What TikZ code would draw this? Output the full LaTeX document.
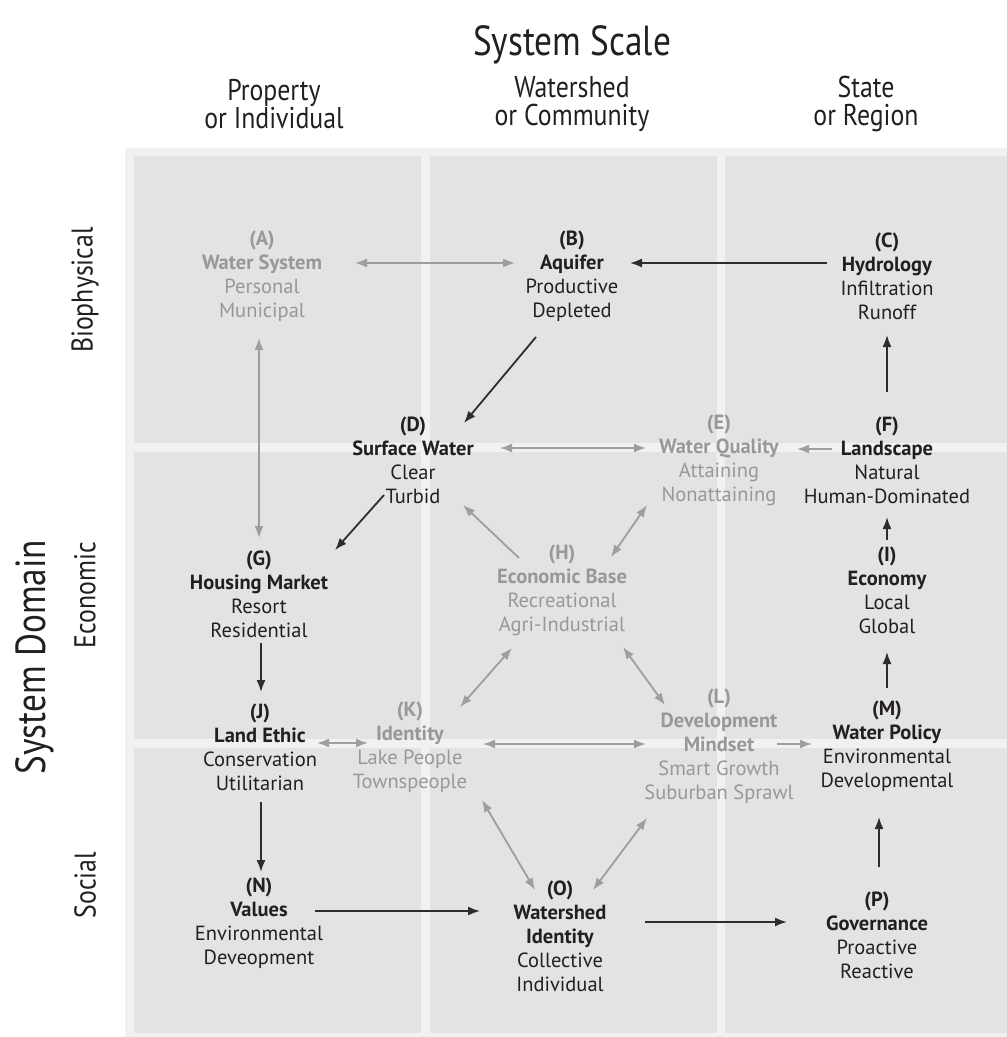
\documentclass[tikz,border=0pt]{standalone}
\usepackage{fontspec}
\setmainfont{PT Sans}
\usetikzlibrary{positioning,shapes,arrows,arrows.meta}

\definecolor{darktext}{RGB}{35,31,32}
\definecolor{greytext}{RGB}{152,152,152}
\definecolor{darkline}{RGB}{45,45,45}
\definecolor{greyline}{RGB}{158,158,158}
\definecolor{panelgrey}{RGB}{227,227,227}
\definecolor{framegrey}{RGB}{241,241,241}

\begin{document}
\begin{tikzpicture}[
  x=1pt, y=-1pt,
  darknode/.style={align=center,text=darktext,inner sep=0pt,
    font=\fontsize{20.5}{24}\selectfont},
  greynode/.style={darknode,text=greytext},
  darklink/.style={draw=darkline,line width=1.8pt,-{Latex[length=12pt,width=9pt]}},
  greylink/.style={draw=greyline,line width=1.8pt,-{Latex[length=12pt,width=9pt]}},
  greyboth/.style={greylink,{Latex[length=12pt,width=9pt]}-{Latex[length=12pt,width=9pt]}},
  bigtitle/.style={text=darktext,xscale=0.84,font=\fontsize{42}{44}\selectfont},
  scaletitle/.style={align=center,text=darktext,xscale=0.86,
    font=\fontsize{30}{28}\selectfont}
]
\useasboundingbox (0,0) rectangle (1007,1037);

% grid of panels
\fill[framegrey] (125,148) rectangle (1007,1037);
\fill[panelgrey] (134,156) rectangle (421,443);
\fill[panelgrey] (430,156) rectangle (717,443);
\fill[panelgrey] (725,156) rectangle (1007,443);
\fill[panelgrey] (134,452) rectangle (421,739);
\fill[panelgrey] (430,452) rectangle (717,739);
\fill[panelgrey] (725,452) rectangle (1007,739);
\fill[panelgrey] (134,748) rectangle (421,1033);
\fill[panelgrey] (430,748) rectangle (717,1033);
\fill[panelgrey] (725,748) rectangle (1007,1033);

% headings
\node[bigtitle] (scale) at (572,45) {System Scale};
\node[scaletitle] (prop) at (274,104) {Property\\or Individual};
\node[scaletitle] (shed) at (572,104) {Watershed\\or Community};
\node[scaletitle] (state) at (866,104) {State\\or Region};
\node[rotate=90,bigtitle] (domain) at (35,657) {System Domain};
\node[rotate=90,scaletitle] (bio) at (85,290) {Biophysical};
\node[rotate=90,scaletitle] (eco) at (85,595) {Economic};
\node[rotate=90,scaletitle] (soc) at (85,885) {Social};

% variables
\node[greynode] (A) at (262,276) {\textbf{(A)}\\\textbf{Water System}\\Personal\\Municipal};
\node[darknode] (B) at (572,276) {\textbf{(B)}\\\textbf{Aquifer}\\Productive\\Depleted};
\node[darknode] (C) at (887,276) {\textbf{(C)}\\\textbf{Hydrology}\\Infiltration\\Runoff};
\node[darknode] (D) at (413,460) {\textbf{(D)}\\\textbf{Surface Water}\\Clear\\Turbid};
\node[greynode] (E) at (719,460) {\textbf{(E)}\\\textbf{Water Quality}\\Attaining\\Nonattaining};
\node[darknode] (F) at (887,460) {\textbf{(F)}\\\textbf{Landscape}\\Natural\\Human-Dominated};
\node[darknode] (G) at (259,594) {\textbf{(G)}\\\textbf{Housing Market}\\Resort\\Residential};
\node[greynode] (H) at (562,590) {\textbf{(H)}\\\textbf{Economic Base}\\Recreational\\Agri-Industrial};
\node[darknode] (I) at (887,590) {\textbf{(I)}\\\textbf{Economy}\\Local\\Global};
\node[darknode] (J) at (260,747) {\textbf{(J)}\\\textbf{Land Ethic}\\Conservation\\Utilitarian};
\node[greynode] (K) at (410,747) {\textbf{(K)}\\\textbf{Identity}\\Lake People\\Townspeople};
\node[greynode] (L) at (719,746) {\textbf{(L)}\\\textbf{Development}\\\textbf{Mindset}\\Smart Growth\\Suburban Sprawl};
\node[darknode] (M) at (887,746) {\textbf{(M)}\\\textbf{Water Policy}\\Environmental\\Developmental};
\node[darknode] (N) at (259,923) {\textbf{(N)}\\\textbf{Values}\\Environmental\\Deveopment};
\node[darknode] (O) at (560,936) {\textbf{(O)}\\\textbf{Watershed}\\\textbf{Identity}\\Collective\\Individual};
\node[darknode] (P) at (877,935) {\textbf{(P)}\\\textbf{Governance}\\Proactive\\Reactive};

% links
\path ([shift={(93,-13)}]A.center) edge[greyboth] ([shift={(-57,-13)}]B.center)
([shift={(-60,-13)}]C.center) edge[darklink] ([shift={(58,-13)}]B.center)
([shift={(-36,61)}]B.center) edge[darklink] ([shift={(51,-37)}]D.center)
([shift={(0,-68)}]F.center) edge[darklink] ([shift={(0,59)}]C.center)
([shift={(-3,62)}]A.center) edge[greyboth] ([shift={(0,-56)}]G.center)
([shift={(87,-12)}]D.center) edge[greyboth] ([shift={(-73,-12)}]E.center)
([shift={(-55,-11)}]F.center) edge[greylink] ([shift={(78,-11)}]E.center)
([shift={(-29,35)}]D.center) edge[darklink] ([shift={(76,-44)}]G.center)
([shift={(-43,-32)}]H.center) edge[greylink] ([shift={(50,45)}]D.center)
([shift={(49,-33)}]H.center) edge[greyboth] ([shift={(-72,45)}]E.center)
([shift={(-50,58)}]H.center) edge[greyboth] ([shift={(50,-40)}]K.center)
([shift={(61,57)}]H.center) edge[greyboth] ([shift={(-54,-41)}]L.center)
([shift={(0,-50)}]I.center) edge[darklink] ([shift={(0,57)}]F.center)
([shift={(0,-58)}]M.center) edge[darklink] ([shift={(0,62)}]I.center)
([shift={(2,49)}]G.center) edge[darklink] ([shift={(1,-55)}]J.center)
([shift={(57,-4)}]J.center) edge[greyboth] ([shift={(-42,-4)}]K.center)
([shift={(73,-3)}]K.center) edge[greyboth] ([shift={(-73,-2)}]L.center)
([shift={(58,-2)}]L.center) edge[greylink] ([shift={(-75,-2)}]M.center)
([shift={(1,55)}]J.center) edge[darklink] ([shift={(2,-51)}]N.center)
([shift={(56,-12)}]N.center) edge[darklink] ([shift={(-80,-25)}]O.center)
([shift={(85,-14)}]O.center) edge[darklink] ([shift={(-90,-13)}]P.center)
([shift={(2,-68)}]P.center) edge[darklink] ([shift={(-8,71)}]M.center)
([shift={(72,53)}]K.center) edge[greyboth] ([shift={(-25,-46)}]O.center)
([shift={(-72,72)}]L.center) edge[greyboth] ([shift={(33,-46)}]O.center);
\end{tikzpicture}
\end{document}
